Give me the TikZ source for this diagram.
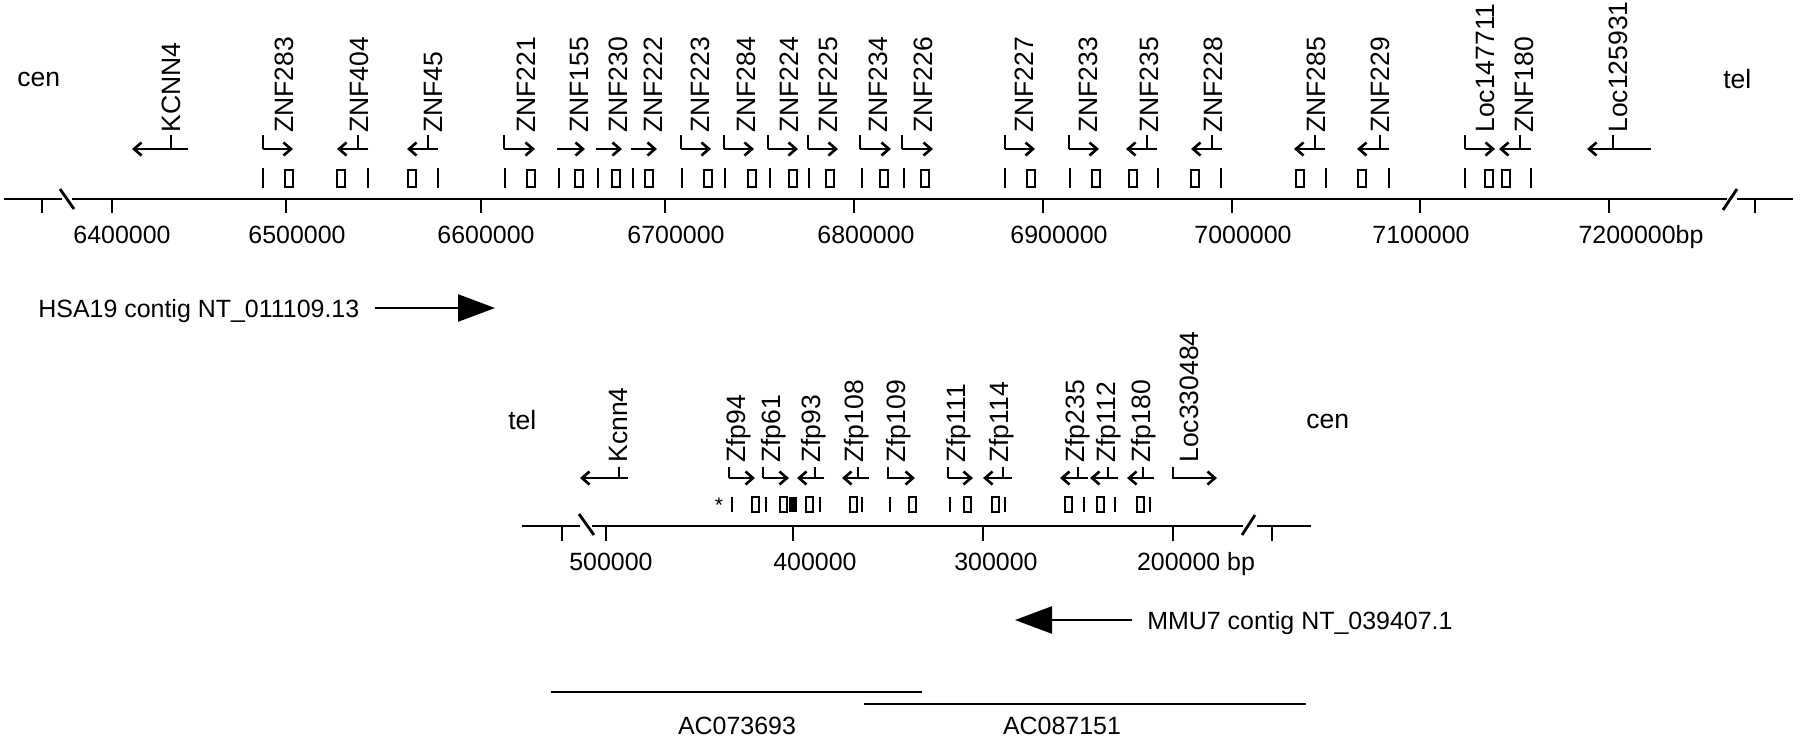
\documentclass[tikz,border=0pt]{standalone}
\usepackage{fontspec}
\setmainfont{Liberation Sans}
\usetikzlibrary{arrows.meta}

\begin{document}
\begin{tikzpicture}[x=0.2mm,y=-0.2mm,
		lbl/.style={inner sep=0pt,anchor=base,font=\fontsize{14.2}{17}\selectfont},
		endlbl/.style={inner sep=0pt,anchor=base west,font=\fontsize{15.1}{18}\selectfont},
		glbl/.style={inner sep=0pt,rotate=90,anchor=base west,font=\fontsize{15.1}{18}\selectfont},
		axis/.style={line width=1.6pt},
		gene/.style={line width=1.5pt,-{Straight Barb[length=1.5mm,width=2.6mm]}},
		lead/.style={line width=1.1pt},
		exon/.style={draw,line width=1pt},
		contig/.style={line width=1.4pt,-{Triangle[length=7.4mm,width=5.4mm]}},
		clone/.style={line width=1.6pt}]
	\useasboundingbox (0,0) rectangle (1800,741);

	% HSA19
	\node[endlbl] (cen1) at (17,86) {cen};
	\node[endlbl] (tel1) at (1723,88) {tel};
	\draw[axis] (4,199) -- (62,199) (72,199) -- (1727,199) (1737,199) -- (1793,199);
	\draw[axis] (60,189) -- (74,209) (1723,210) -- (1737,189);
	\foreach \x in {42,112,286,481,665,854,1043,1232,1420,1609,1755}
		\draw[axis] (\x,199) -- (\x,213);
	\foreach \x/\t in {122/6400000,297/6500000,486/6600000,676/6700000,866/6800000,
			1059/6900000,1243/7000000,1421/7100000,1641/7200000bp}
		\node[lbl] (h\t) at (\x,243) {\t};
	\foreach \g/\lx/\ax/\tx in {KCNN4/180/188/132,ZNF283/293/263/293,ZNF404/368/368/337,
			ZNF45/442/438/407,ZNF221/535/504/535,ZNF155/588/557/585,ZNF230/627/596/622,
			ZNF222/662/631/657,ZNF223/709/681/711,ZNF284/755/724/754,ZNF224/798/768/798,
			ZNF225/837/808/838,ZNF234/887/860/891,ZNF226/932/902/933,ZNF227/1033/1005/1035,
			ZNF233/1097/1069/1099,ZNF235/1158/1157/1126,ZNF228/1222/1222/1191,
			ZNF285/1325/1325/1294,ZNF229/1389/1389/1357,Loc147711/1494/1465/1495,
			ZNF180/1533/1531/1499,Loc125931/1627/1651/1587}{
		\node[glbl] (\g) at (\lx,133) {\g};
		\coordinate (\g-a) at (\ax,149);
		\coordinate (\g-b) at (\tx,149);
		\draw[gene] (\g-a) -- (\g-b);
	}
	\foreach \x in {171,263,358,428,504,681,724,768,808,860,902,1005,1069,1147,1212,
			1315,1380,1465,1520,1613}
		\draw[lead] (\x,135) -- (\x,149);
	\foreach \t/\k in {263/285,368/337,438/408,505/527,559/575,598/612,633/645,682/704,
			725/748,770/789,809/826,862/880,904/921,1005/1027,1070/1092,1158/1129,
			1221/1191,1326/1296,1389/1358,1465/1485,1531/1502}{
		\draw[lead] (\t,168) -- (\t,188);
		\draw[exon] (\k,170) rectangle ++(8,17);
	}
	\node[lbl,anchor=base west] (hsa) at (38,317) {HSA19 contig NT\_011109.13};
	\coordinate (hsa-a) at (375,308);
	\coordinate (hsa-b) at (495,308);
	\draw[contig] (hsa-a) -- (hsa-b);

	% MMU7
	\node[endlbl] (tel2) at (508,429) {tel};
	\node[endlbl] (cen2) at (1306,428) {cen};
	\draw[axis] (522,526) -- (580,526) (592,526) -- (1243,526) (1257,526) -- (1311,526);
	\draw[axis] (579,514) -- (594,535) (1242,535) -- (1255,515);
	\foreach \x in {562,606,793,983,1173,1272}
		\draw[axis] (\x,526) -- (\x,541);
	\foreach \x/\t in {611/500000,815/400000,996/300000,1196/200000 bp}
		\node[lbl] (m\x) at (\x,570) {\t};
	\foreach \g/\lx/\ax/\tx in {Kcnn4/627/628/580,Zfp94/745/729/755,Zfp61/780/763/789,
			Zfp93/820/824/797,Zfp108/863/869/842,Zfp109/905/887/915,Zfp111/965/948/973,
			Zfp114/1008/1012/983,Zfp235/1084/1088/1060,Zfp112/1115/1118/1090,
			Zfp180/1150/1154/1127,Loc330484/1198/1172/1217}{
		\node[glbl] (\g) at (\lx,463) {\g};
		\coordinate (\g-a) at (\ax,478);
		\coordinate (\g-b) at (\tx,478);
		\draw[gene] (\g-a) -- (\g-b);
	}
	\foreach \x in {619,729,763,815,858,888,948,1003,1078,1108,1143,1173}
		\draw[lead] (\x,467) -- (\x,478);
	\foreach \t/\k in {732/752,766/780,820/806,862/850,890/909,950/964,1005/992,
			1084/1065,1115/1097,1150/1137}{
		\draw[lead] (\t,497) -- (\t,512);
		\draw[exon] (\k,497) rectangle ++(7,15);
	}
	\fill (789,497) rectangle (797,512);
	\node[lbl,anchor=north,font=\fontsize{12}{14}\selectfont] (star) at (719,498) {*};
	\node[lbl,anchor=base west] (mmu) at (1147,629) {MMU7 contig NT\_039407.1};
	\coordinate (mmu-a) at (1132,620);
	\coordinate (mmu-b) at (1015,620);
	\draw[contig] (mmu-a) -- (mmu-b);

	% BAC clones
	\coordinate (ac1-a) at (551,692);
	\coordinate (ac1-b) at (922,692);
	\coordinate (ac2-a) at (864,704);
	\coordinate (ac2-b) at (1306,704);
	\draw[clone] (ac1-a) -- (ac1-b);
	\draw[clone] (ac2-a) -- (ac2-b);
	\node[lbl] (ac1) at (737,734) {AC073693};
	\node[lbl] (ac2) at (1062,734) {AC087151};
\end{tikzpicture}
\end{document}
